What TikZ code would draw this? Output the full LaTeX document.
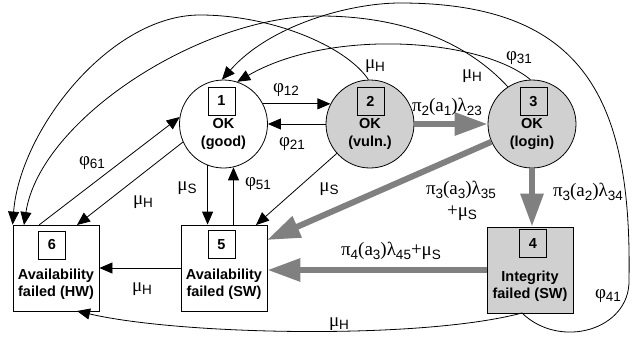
\documentclass[tikz,border=0pt]{standalone}
\usepackage{fontspec}
\setmainfont{Liberation Sans}
\newfontfamily\lblserif{Liberation Serif}
\usetikzlibrary{arrows.meta,calc}
\definecolor{nodegray}{RGB}{208,208,208}
\definecolor{arrgray}{RGB}{128,128,128}
\newcommand{\sbx}[1]{\raisebox{-3.5pt}{\normalfont\fontsize{13.5}{13.5}\selectfont #1}}
\tikzset{
  circnode/.style={circle, draw, line width=0.8pt, minimum size=88pt, inner sep=0pt},
  rectnode/.style={rectangle, draw, line width=0.8pt, minimum width=86pt, minimum height=86pt, inner sep=0pt},
  numbox/.style={rectangle, draw, line width=0.7pt, minimum width=27pt, minimum height=28pt, inner sep=0pt, font=\fontsize{14.5}{14.5}\selectfont\bfseries},
  ntext/.style={align=center, font=\fontsize{14.5}{17.5}\selectfont\bfseries, inner sep=0pt},
  lbl/.style={font=\lblserif\fontsize{19}{19}\selectfont, inner sep=0pt},
  tarrow/.style={line width=0.8pt, -{Triangle[length=13pt,width=11pt]}},
  garrow/.style={line width=6pt, draw=arrgray, -{Triangle[length=33pt,width=22pt]}}
}
\begin{document}
\begin{tikzpicture}[x=1pt,y=-1pt]
\useasboundingbox (0,0) rectangle (632,338);
% main nodes
\node[circnode] (n1) at (223.5,124) {};
\node[circnode, fill=nodegray] (n2) at (370,124) {};
\node[circnode, fill=nodegray] (n3) at (532,124) {};
\node[rectnode, fill=nodegray] (n4) at (530,270) {};
\node[rectnode] (n5) at (224,268) {};
\node[rectnode] (n6) at (56,268) {};
% number boxes
\node[numbox] (b1) at (221.5,101) {1};
\node[numbox] (b2) at (370.5,101.5) {2};
\node[numbox] (b3) at (533.5,101.5) {3};
\node[numbox] (b4) at (533,243.5) {4};
\node[numbox] (b5) at (221.5,244.5) {5};
\node[numbox] (b6) at (52,245) {6};
% node texts
\node[ntext] (t1) at (223.5,134) {OK\\(good)};
\node[ntext] (t2) at (370,134) {OK\\(vuln.)};
\node[ntext] (t3) at (532,134) {OK\\(login)};
\node[ntext] (t4) at (530,286) {Integrity\\failed (SW)};
\node[ntext] (t5) at (224,284) {Availability\\failed (SW)};
\node[ntext] (t6) at (56,284) {Availability\\failed (HW)};
% helper coordinates
\coordinate (c35) at (267,240);
\coordinate (c25) at (256,225);
\coordinate (c61) at (39,225);
\coordinate (c16) at (77,225);
\coordinate (c36) at (24,225);
\coordinate (c4b) at (522,313);
\coordinate (c6b) at (77,311);
% straight thin arrows
\draw[tarrow] (n1.27) -- (n2.153);
\draw[tarrow] (n2.180) -- (n1.0);
\draw[tarrow] (n2) -- (c25);
\draw[tarrow] (n1.249) -- (n1.249 |- n5.north);
\draw[tarrow] (n1.283 |- n5.north) -- (n1.283);
\draw[tarrow] (n5.west) -- (n6.east);
\draw[tarrow] (c61) -- (n1.171);
\draw[tarrow] (n1.204) -- (c16);
% thick gray arrows
\draw[garrow] (n2.east) -- (n3.west);
\draw[garrow] (n3.south) -- (n3.south |- n4.north);
\draw[garrow] (n3) -- (c35);
\draw[garrow] (n4.west) -- (n4.west -| n5.east);
% curved arrows
\draw[tarrow] (n2.92) .. controls (345,45) and (270,15) .. (200,15) .. controls (110,15) and (20,130) .. (n6.north west);
\draw[tarrow] (n3.123) .. controls (460,35) and (390,16) .. (320,16) .. controls (200,16) and (40,120) .. (c36);
\draw[tarrow] (c4b) .. controls (560,350) and (630,330) .. (629,280) .. controls (632,100) and (585,3) .. (400,3) .. controls (350,3) and (270,25) .. (n1.92);
\draw[tarrow] (n3.92) .. controls (480,38) and (330,28) .. (n1.72);
\draw[tarrow] (c4b) .. controls (420,340) and (180,335) .. (c6b);
% labels
\node[lbl] (l12) at (286,90) {φ\sbx{12}};
\node[lbl] (l21) at (292,144) {φ\sbx{21}};
\node[lbl] (lH2) at (375,66) {μ\sbx{H}};
\node[lbl] (lH3) at (472,76) {μ\sbx{H}};
\node[lbl] (l31) at (519,58) {φ\sbx{31}};
\node[lbl] (l23) at (447,107) {π\sbx{2}(a\sbx{1})λ\sbx{23}};
\node[lbl] (l34) at (588,192) {π\sbx{3}(a\sbx{2})λ\sbx{34}};
\node[lbl] (l35) at (461,190) {π\sbx{3}(a\sbx{3})λ\sbx{35}};
\node[lbl] (l35b) at (462,213) {+μ\sbx{S}};
\node[lbl] (l45) at (391,251) {π\sbx{4}(a\sbx{3})λ\sbx{45}+μ\sbx{S}};
\node[lbl] (lS25) at (329,189) {μ\sbx{S}};
\node[lbl] (lS15) at (187,188) {μ\sbx{S}};
\node[lbl] (l51) at (258,184) {φ\sbx{51}};
\node[lbl] (lH16) at (143,202) {μ\sbx{H}};
\node[lbl] (l61) at (92,163) {φ\sbx{61}};
\node[lbl] (lH56) at (142,289) {μ\sbx{H}};
\node[lbl] (lH46) at (339,324) {μ\sbx{H}};
\node[lbl] (l41) at (608,296) {φ\sbx{41}};
\end{tikzpicture}
\end{document}
